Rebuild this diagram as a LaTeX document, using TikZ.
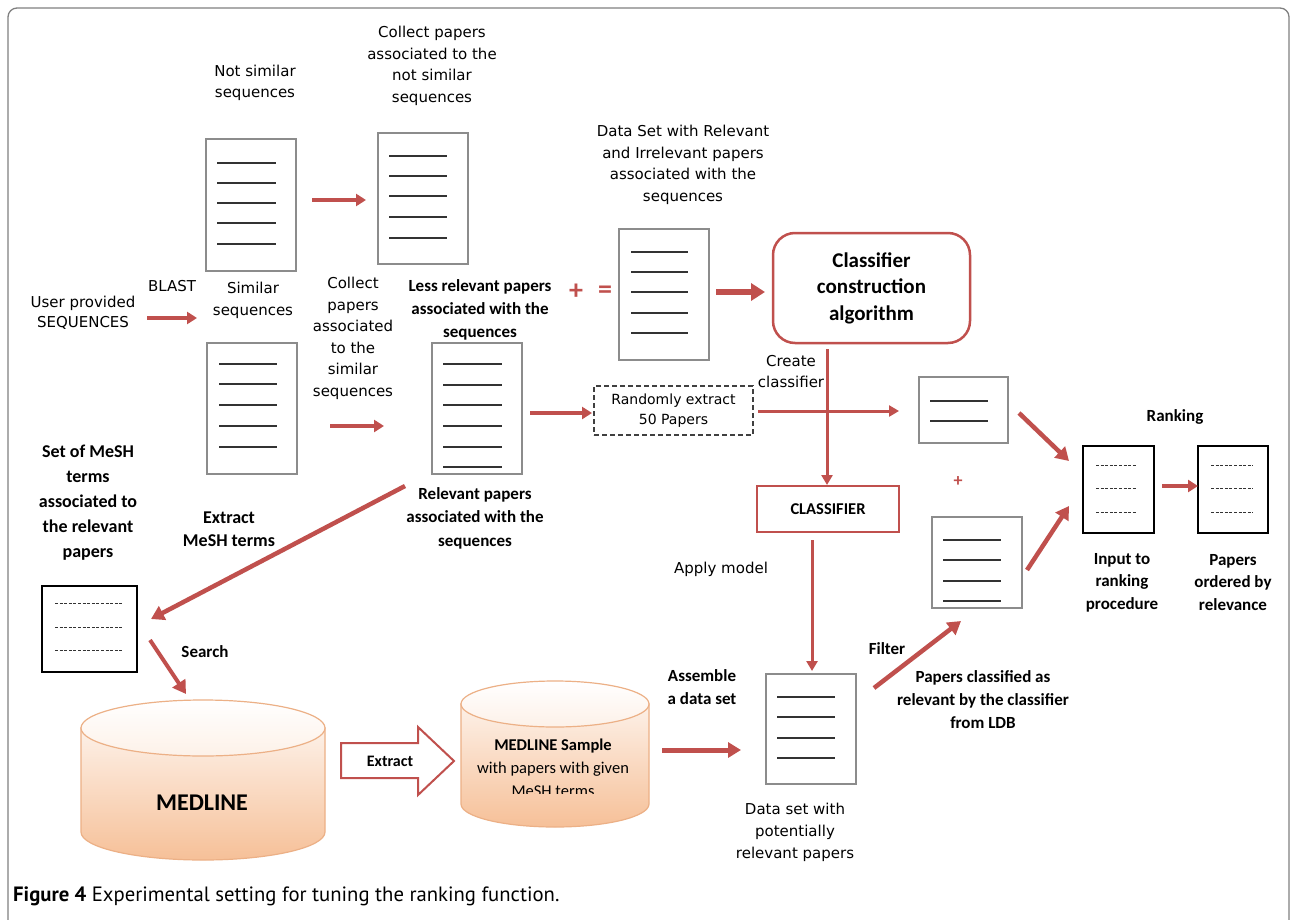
\documentclass[tikz,border=0pt]{standalone}
\usepackage{fontspec}
\setmainfont{DejaVu Sans}
\newfontfamily\carl{Carlito}
\newfontfamily\ptsans{PT Sans}
\usetikzlibrary{arrows.meta,shapes.geometric}
\definecolor{arrred}{RGB}{192,80,77}
\definecolor{docgray}{RGB}{140,140,140}
\definecolor{peach}{RGB}{246,192,152}
\definecolor{peachlight}{RGB}{253,241,232}
\definecolor{peachline}{RGB}{236,176,134}
\definecolor{framegray}{RGB}{128,128,128}
\begin{document}
\begin{tikzpicture}[x=1pt,y=-1pt,
  txt/.style={align=center, font=\fontsize{15}{21.5}\selectfont, inner sep=0pt},
  btxt/.style={align=center, font=\carl\bfseries\fontsize{17}{23}\selectfont, inner sep=0pt},
  docbox/.style={draw=docgray, line width=1.3pt, fill=white, inner sep=0pt},
  blackdoc/.style={draw=black, line width=2.8pt, fill=white, inner sep=0pt},
  docline/.style={draw=black!80, line width=1.6pt},
  dashline/.style={draw=black!80, line width=0.9pt, dash pattern=on 3pt off 1.6pt},
  redarr/.style={draw=arrred, line width=4.5pt, -{Triangle[length=13pt,width=15pt]}},
  midarr/.style={draw=arrred, line width=3.5pt, -{Triangle[length=10pt,width=12pt]}},
  thinarr/.style={draw=arrred, line width=3pt, -{Triangle[length=10pt,width=11pt]}},
]
\useasboundingbox (0,0) rectangle (1292,920);
\fill[white] (0,0) rectangle (1292,920);
% frame
\draw[framegray, line width=1.3pt, rounded corners=9pt] (8,930) -- (8,8) -- (1289,8) -- (1289,930);

% ---------- documents ----------
\node[docbox, minimum width=90pt, minimum height=132pt] (nsdoc) at (251,205) {};
\foreach \yy in {163,183,203,223,244} \draw[docline] (217,\yy) -- (276,\yy);
\node[docbox, minimum width=90pt, minimum height=131pt] (cnsdoc) at (423,198.5) {};
\foreach \yy in {156,176,196,217,238} \draw[docline] (389,\yy) -- (447,\yy);
\node[docbox, minimum width=90pt, minimum height=131pt] (sdoc) at (252,408.5) {};
\foreach \yy in {364,384,405,426,447} \draw[docline] (219,\yy) -- (277,\yy);
\node[docbox, minimum width=90pt, minimum height=131pt] (rdoc) at (477,408.5) {};
\foreach \yy in {364,385,405,426,447,467} \draw[docline] (443,\yy) -- (502,\yy);
\node[docbox, minimum width=90pt, minimum height=131pt] (ddoc) at (664,294.5) {};
\foreach \yy in {252,272,292,313,333} \draw[docline] (631,\yy) -- (688,\yy);
\node[docbox, minimum width=89pt, minimum height=66pt] (smalldoc) at (963.5,410) {};
\foreach \yy in {401,421} \draw[docline] (930,\yy) -- (988,\yy);
\node[docbox, minimum width=90pt, minimum height=91pt] (lowdoc) at (977,562.5) {};
\foreach \yy in {540,560,581,601} \draw[docline] (943,\yy) -- (1001,\yy);
\node[docbox, minimum width=90pt, minimum height=110pt] (pdoc) at (811,729) {};
\foreach \yy in {697,717,738,758} \draw[docline] (777,\yy) -- (835,\yy);
\node[blackdoc, minimum width=95pt, minimum height=86pt] (meshdoc) at (89.5,629) {};
\foreach \yy in {603,627,650} \draw[dashline] (55,\yy) -- (122,\yy);
\node[blackdoc, minimum width=71pt, minimum height=87pt] (indoc) at (1118.5,489.5) {};
\foreach \yy in {465,488,512} \draw[dashline] (1096,\yy) -- (1137,\yy);
\node[blackdoc, minimum width=70pt, minimum height=87pt] (outdoc) at (1233,489.5) {};
\foreach \yy in {465,488,512} \draw[dashline] (1211,\yy) -- (1253,\yy);

% ---------- boxes ----------
\node[draw=black!75, line width=1.2pt, dash pattern=on 5pt off 3pt, minimum width=159pt, minimum height=49pt, align=center, inner sep=0pt, font=\fontsize{14}{19.5}\selectfont] (rand) at (673.5,410.5) {Randomly extract\\50 Papers};
\node[draw=arrred, line width=2.5pt, rounded corners=22pt, minimum width=197pt, minimum height=110pt, align=center, inner sep=0pt, font=\carl\bfseries\fontsize{21}{26.5}\selectfont] (cca) at (871.5,288) {Classifier\\construction\\algorithm};
\node[draw=arrred, line width=2pt, minimum width=142pt, minimum height=46pt, inner sep=0pt, font=\carl\bfseries\fontsize{16.5}{20}\selectfont] (clf) at (828,509) {CLASSIFIER};

% ---------- cylinders ----------
\shade[top color=peachlight, bottom color=peach, draw=peachline, line width=1.2pt]
  (81,728) -- (81,832) arc[start angle=180, end angle=0, x radius=122, y radius=28] -- (325,728) -- cycle;
\shade[top color=white, bottom color=peachlight, draw=peachline, line width=1.2pt] (203,728) ellipse [x radius=122, y radius=28];
\node[inner sep=0pt, font=\carl\bfseries\fontsize{24}{24}\selectfont] (medline) at (202,803) {MEDLINE};

\shade[top color=peachlight, bottom color=peach, draw=peachline, line width=1.2pt]
  (461,704) -- (461,804) arc[start angle=180, end angle=0, x radius=94, y radius=23] -- (649,704) -- cycle;
\shade[top color=white, bottom color=peachlight, draw=peachline, line width=1.2pt] (555,704) ellipse [x radius=94, y radius=23];
\node[inner sep=0pt, font=\carl\bfseries\fontsize{16.5}{16.5}\selectfont] (msample) at (553,746) {MEDLINE Sample};
\node[inner sep=0pt, font=\carl\fontsize{16.5}{16.5}\selectfont] (mswith) at (553,769) {with papers with given};
\begin{scope}
\clip (470,778) rectangle (640,793);
\node[inner sep=0pt, font=\carl\fontsize{16.5}{16.5}\selectfont] (msmesh) at (553,791) {MeSH terms};
\end{scope}

% Extract block arrow
\draw[arrred, line width=2pt, fill=white] (341,743) -- (418,743) -- (418,727) -- (454,761) -- (418,795) -- (418,778) -- (341,778) -- cycle;
\node[inner sep=0pt, font=\carl\bfseries\fontsize{16}{16}\selectfont] (textr) at (390,761) {Extract};

% ---------- texts ----------
\node[txt] (tNS) at (255,83) {Not similar\\sequences};
\node[txt] (tCNS) at (432,66) {Collect papers\\associated to the\\not similar\\sequences};
\node[txt] (tDS) at (683,165) {Data Set with Relevant\\and Irrelevant papers\\associated with the\\sequences};
\node[txt, font=\fontsize{15}{20}\selectfont] (tUser) at (83,312.5) {User provided\\SEQUENCES};
\begin{scope}
\clip (140,270) rectangle (197,300);
\node[txt, anchor=west] (tBlast) at (148,286) {BLAST};
\end{scope}
\node[txt] (tSim) at (253,300.5) {Similar\\sequences};
\node[txt] (tCS) at (353,338.5) {Collect\\papers\\associated\\to the\\similar\\sequences};
\node[btxt] (tLess) at (480,310) {Less relevant papers\\associated with the\\sequences};
\node[inner sep=0pt, text=arrred, font=\carl\bfseries\fontsize{28}{28}\selectfont] (plus1) at (576,292) {+};
\node[inner sep=0pt, text=arrred, font=\carl\bfseries\fontsize{28}{28}\selectfont] (eq1) at (605,292) {=};
\node[txt] (tCreate) at (791,371.5) {Create\\classifier};
\node[txt] (tApply) at (721,569) {Apply model};
\node[btxt] (tAssemble) at (702,687.5) {Assemble\\a data set};
\node[txt, font=\fontsize{15}{22}\selectfont] (tPot) at (795,832) {Data set with\\potentially\\relevant papers};
\node[btxt] (tFilter) at (887,649) {Filter};
\node[btxt] (tPCl) at (983,700) {Papers classified as\\relevant by the classifier\\from LDB};
\node[btxt] (tRank) at (1175,417) {Ranking};
\node[btxt, font=\carl\bfseries\fontsize{17}{22.5}\selectfont] (tInput) at (1122,582.5) {Input to\\ranking\\procedure};
\node[btxt, font=\carl\bfseries\fontsize{17}{22.5}\selectfont] (tOrd) at (1233,582.5) {Papers\\ordered by\\relevance};
\node[inner sep=0pt, text=arrred, font=\carl\bfseries\fontsize{18}{18}\selectfont] (plus2) at (958,482) {+};
\node[btxt, font=\carl\bfseries\fontsize{18}{25}\selectfont] (tSet) at (88,503) {Set of MeSH\\terms\\associated to\\the relevant\\papers};
\node[btxt, font=\carl\bfseries\fontsize{18}{23}\selectfont] (tExtr) at (229,529.5) {Extract\\MeSH terms};
\node[btxt, font=\carl\bfseries\fontsize{17}{23.5}\selectfont] (tRel) at (475,518) {Relevant papers\\associated with the\\sequences};
\node[btxt] (tSearch) at (205,652) {Search};
\node[anchor=west, inner sep=0pt, font=\ptsans\fontsize{20.7}{20.7}\selectfont] (cap) at (13,896) {\textbf{Figure 4} Experimental setting for tuning the ranking function.};

% ---------- arrows ----------
\coordinate (a1s) at (147,318); \coordinate (a1e) at (197,318);
\draw[midarr] (a1s) -- (a1e);
\coordinate (a2s) at (312,200); \coordinate (a2e) at (366,200);
\draw[midarr] (a2s) -- (a2e);
\coordinate (a3s) at (330,426); \coordinate (a3e) at (384,426);
\draw[midarr] (a3s) -- (a3e);
\coordinate (a4s) at (716,292); \coordinate (a4e) at (765,292);
\draw[redarr, line width=5.5pt, -{Triangle[length=14pt,width=17pt]}] (a4s) -- (a4e);
\coordinate (a5s) at (530,413); \coordinate (a5e) at (592,413);
\draw[midarr] (a5s) -- (a5e);
\coordinate (a6s) at (758,411); \coordinate (a6e) at (899,411);
\draw[thinarr] (a6s) -- (a6e);
\coordinate (a7s) at (827,349);
\draw[thinarr] (a7s) -- (clf.north -| a7s);
\coordinate (a8s) at (812,540); \coordinate (a8e) at (812,671);
\draw[thinarr] (a8s) -- (a8e);
\coordinate (a9s) at (1019,413); \coordinate (a9e) at (1069,461);
\draw[redarr] (a9s) -- (a9e);
\coordinate (a10s) at (1027,570); \coordinate (a10e) at (1069,506);
\draw[redarr] (a10s) -- (a10e);
\coordinate (a11s) at (1162,486); \coordinate (a11e) at (1198,486);
\draw[midarr] (a11s) -- (a11e);
\coordinate (a12s) at (405,486); \coordinate (a12e) at (151,619);
\draw[redarr] (a12s) -- (a12e);
\coordinate (a13s) at (150,640); \coordinate (a13e) at (186,694);
\draw[redarr, line width=4pt] (a13s) -- (a13e);
\coordinate (a14s) at (662,750); \coordinate (a14e) at (741,750);
\draw[redarr, line width=5pt] (a14s) -- (a14e);
\coordinate (a15s) at (874,688); \coordinate (a15e) at (961,621);
\draw[redarr] (a15s) -- (a15e);
\end{tikzpicture}
\end{document}
